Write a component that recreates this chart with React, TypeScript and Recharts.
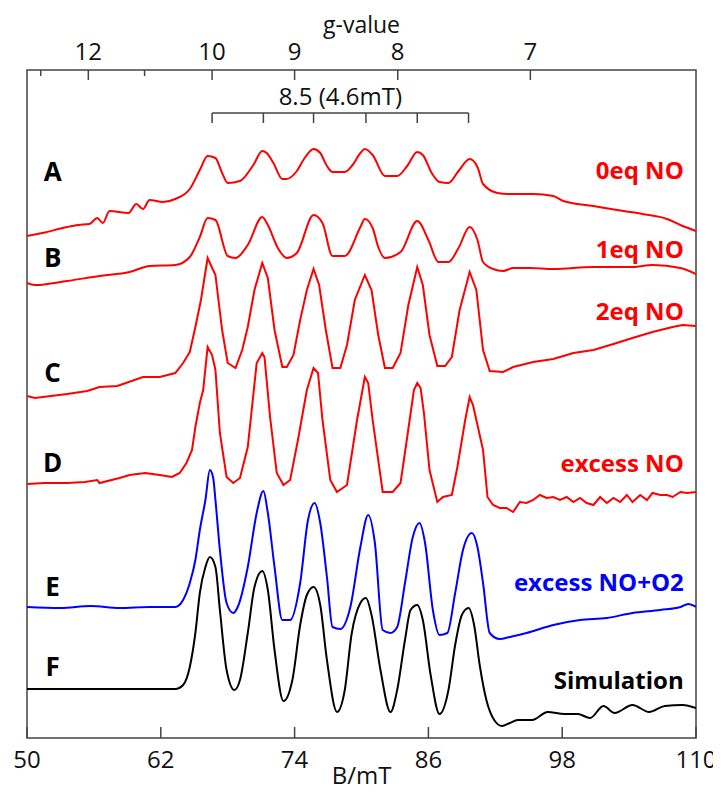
import {
  LineChart,
  Line,
  XAxis,
  YAxis,
  ReferenceArea,
  ReferenceLine,
  ReferenceDot,
} from 'recharts'

// field axis (mT) and the g-value axis on top
const B_TICKS = [50, 62, 74, 86, 98, 110]
const G_LABELLED = [12, 10, 9, 8, 7]
const G_MINOR = [13, 11]
const HNU_OVER_MUB = 666 // g * B (mT) at the spectrometer frequency

// hyperfine comb marked above the spectra
const SPLIT_TICKS = [66.6, 71.2, 75.7, 80.4, 85.0, 89.6]
const SPLIT_LABEL = '8.5 (4.6mT)'

const LETTERS = ['A', 'B', 'C', 'D', 'E', 'F']
const NAMES = ['0eq NO', '1eq NO', '2eq NO', 'excess NO', 'excess NO+O2', 'Simulation']

// [B (mT), signal incl. stacking offset]
const SPEC_A = [
  [50.0, 502], [51.4, 505], [53.6, 511], [54.6, 513], [55.6, 514], [56.3, 520], [56.8, 515],
  [57.4, 527], [59.1, 525], [59.8, 534], [60.4, 529], [61.0, 538], [62.2, 536], [63.3, 539],
  [64.6, 549], [65.5, 568], [66.2, 582], [66.9, 580], [67.5, 565], [68.0, 555], [69.1, 557],
  [70.3, 573], [71.1, 587], [71.5, 585], [72.1, 575], [72.9, 559], [73.3, 559], [74.2, 567],
  [74.9, 580], [75.7, 589], [76.3, 585], [76.9, 572], [77.4, 566], [78.5, 566], [79.2, 573],
  [79.9, 585], [80.3, 589], [81.0, 583], [82.1, 562], [83.2, 562], [84.1, 572], [85.0, 586],
  [85.5, 583], [86.3, 565], [87.0, 556], [87.8, 555], [88.7, 567], [89.7, 579], [90.4, 571],
  [90.9, 554], [92.2, 545], [93.1, 544], [95.4, 544], [97.2, 542], [98.1, 537], [100.8, 532],
  [103.5, 527], [105.2, 524], [107.4, 519], [108.6, 513], [110.0, 507],
]

const SPEC_B = [
  [50.0, 455], [50.7, 453], [53.6, 457], [56.5, 462], [59.2, 466], [61.0, 472], [63.3, 473],
  [64.6, 481], [65.5, 501], [66.2, 520], [66.9, 518], [68.0, 482], [68.7, 480], [69.8, 493],
  [71.1, 521], [71.6, 513], [72.5, 490], [73.3, 480], [74.2, 485], [75.7, 523], [76.5, 515],
  [77.4, 482], [78.5, 482], [79.9, 511], [80.3, 519], [81.0, 510], [81.5, 491], [82.1, 480],
  [83.5, 486], [85.0, 517], [86.0, 498], [86.9, 476], [87.8, 476], [88.7, 490], [89.7, 511],
  [90.4, 498], [90.9, 476], [91.8, 469], [92.7, 467], [93.6, 470], [95.1, 470], [97.2, 469],
  [100.8, 471], [104.3, 471], [106.1, 473], [108.6, 470], [110.0, 464],
]

const SPEC_C = [
  [50.0, 342], [50.7, 340], [53.6, 344], [55.4, 347], [56.5, 351], [58.1, 352], [60.4, 361],
  [61.9, 361], [63.3, 365], [64.0, 375], [64.6, 386], [65.1, 411], [65.6, 438], [66.2, 480],
  [66.9, 463], [67.5, 408], [68.0, 375], [68.7, 370], [69.3, 388], [69.8, 411], [70.4, 448],
  [71.1, 475], [71.6, 460], [72.2, 408], [72.9, 371], [73.3, 371], [73.9, 383], [74.5, 418],
  [75.1, 448], [75.7, 469], [76.2, 453], [76.8, 408], [77.4, 370], [78.1, 370], [78.7, 393],
  [79.4, 438], [80.3, 463], [80.9, 448], [81.5, 403], [82.1, 370], [82.8, 370], [83.5, 385],
  [84.2, 433], [85.0, 471], [85.5, 453], [86.1, 403], [86.8, 372], [87.5, 372], [88.1, 381],
  [88.8, 428], [89.7, 466], [90.3, 448], [90.9, 388], [91.5, 367], [92.7, 366], [93.6, 371],
  [95.4, 376], [97.2, 379], [99.0, 385], [100.8, 388], [102.6, 394], [104.3, 400], [106.1, 406],
  [107.9, 411], [108.8, 413], [110.0, 412],
]

const SPEC_D = [
  [50.0, 254], [51.6, 255], [53.6, 255], [55.2, 256], [56.3, 258], [56.5, 255], [58.3, 260],
  [59.2, 263], [60.6, 265], [61.9, 263], [63.0, 261], [63.7, 265], [64.3, 275], [64.8, 288],
  [65.1, 311], [65.5, 335], [65.8, 348], [66.2, 391], [66.6, 383], [66.9, 368], [67.3, 305],
  [67.9, 261], [68.5, 255], [69.1, 260], [69.8, 291], [70.6, 375], [71.1, 385], [71.3, 381],
  [71.8, 321], [72.4, 265], [73.0, 253], [73.6, 258], [74.3, 298], [75.1, 348], [75.7, 370],
  [76.1, 365], [76.5, 318], [77.2, 258], [77.8, 246], [78.7, 253], [79.6, 318], [80.3, 361],
  [80.6, 355], [81.0, 318], [81.9, 246], [82.8, 246], [83.5, 255], [84.1, 301], [84.7, 348],
  [85.0, 355], [85.3, 350], [85.6, 325], [86.1, 268], [86.8, 236], [87.3, 241], [88.1, 243],
  [88.6, 271], [89.3, 318], [89.7, 341], [90.0, 333], [90.9, 288], [91.3, 241], [91.8, 233],
  [92.4, 230], [93.0, 230], [93.6, 226], [94.2, 236], [94.8, 235], [95.4, 238], [96.0, 243],
  [96.6, 240], [97.2, 241], [97.8, 238], [98.4, 241], [99.0, 236], [99.6, 240], [100.2, 235],
  [100.8, 233], [101.4, 241], [102.0, 235], [102.6, 240], [103.2, 236], [103.8, 243],
  [104.3, 236], [105.0, 243], [105.6, 238], [106.1, 245], [106.8, 243], [107.4, 243],
  [107.9, 241], [108.6, 246], [109.2, 245], [110.0, 246],
]

const SPEC_E = [
  [50.0, 131], [53.0, 130], [55.7, 132], [58.3, 130], [61.0, 131], [63.3, 131], [64.0, 138],
  [64.6, 155], [65.1, 178], [65.5, 208], [66.0, 238], [66.4, 268], [66.7, 260], [66.9, 238],
  [67.3, 188], [67.9, 135], [68.5, 125], [68.9, 131], [69.8, 171], [70.6, 225], [71.2, 247],
  [71.6, 225], [72.2, 171], [72.9, 118], [73.6, 118], [74.5, 155], [75.2, 218], [75.8, 235],
  [76.3, 215], [76.9, 161], [77.4, 111], [78.1, 109], [79.0, 131], [79.9, 191], [80.6, 223],
  [81.2, 195], [81.9, 108], [82.6, 105], [83.2, 111], [83.9, 155], [84.6, 201], [85.2, 215],
  [85.7, 195], [86.4, 128], [87.0, 103], [87.7, 105], [88.4, 145], [89.1, 188], [89.9, 205],
  [90.4, 191], [90.9, 155], [91.5, 105], [92.4, 99], [93.3, 101], [94.8, 105], [97.2, 113],
  [99.6, 118], [102.0, 120], [104.3, 125], [106.8, 128], [108.6, 131], [109.3, 134], [110.0, 131],
]

const SPEC_F = [
  [50.0, 49], [63.3, 49], [64.0, 53], [64.6, 71], [65.1, 105], [65.5, 145], [66.0, 171],
  [66.4, 181], [66.9, 171], [67.3, 128], [67.9, 68], [68.6, 48], [69.1, 58], [69.8, 105],
  [70.4, 151], [71.1, 167], [71.6, 148], [72.2, 88], [73.0, 37], [73.8, 58], [74.5, 113],
  [75.1, 143], [75.7, 151], [76.3, 133], [76.9, 78], [77.8, 26], [78.5, 48], [79.1, 103],
  [79.9, 135], [80.4, 140], [80.9, 123], [81.7, 68], [82.6, 26], [83.2, 48], [83.9, 98],
  [84.4, 128], [85.0, 133], [85.5, 118], [86.2, 63], [87.0, 24], [87.8, 48], [88.4, 93],
  [89.0, 123], [89.6, 130], [90.1, 113], [90.6, 73], [91.2, 38], [91.9, 18], [92.6, 12],
  [93.3, 15], [94.0, 18], [95.3, 18], [96.7, 26], [98.2, 24], [99.4, 24], [100.5, 20],
  [101.7, 32], [102.7, 25], [104.3, 33], [105.8, 26], [107.2, 32], [108.8, 33], [110.0, 30],
]

const SPECTRA = [SPEC_A, SPEC_B, SPEC_C, SPEC_D, SPEC_E, SPEC_F]

// look
const FONT = '"Open Sans", "Noto Sans", sans-serif'
const AXIS = '#444'
const COLORS = ['#ff0000', '#ff0000', '#ff0000', '#ff0000', '#0000ff', '#000000']
const CURVES = ['monotone', 'monotone', 'linear', 'linear', 'monotone', 'monotone']
const LETTER_Y = [566, 480, 365, 275, 151, 71]
const NAME_Y = [568, 489, 427, 275, 156, 58]
const LETTER_B = 52.3
const NAME_B = 108.9
const Y_MAX = 668
const TICK_FS = 24

const toPoints = (s: number[][]) => s.map(([b, v]) => ({ b, v }))

const BottomTick = ({ x, y, payload }: any) => (
  <g>
    <line x1={x} y1={y} x2={x} y2={y - 11} stroke={AXIS} strokeWidth={1.5} />
    <text x={x} y={y + 30} textAnchor="middle" fontSize={TICK_FS} fontFamily={FONT} fill="#111">
      {payload.value}
    </text>
  </g>
)

const textShape = (label: string, anchor: string, size: number, color: string, bold: boolean) =>
  (p: any) => (
    <text
      x={p.cx}
      y={p.cy + size * 0.36}
      textAnchor={anchor}
      fontSize={size}
      fontWeight={bold ? 700 : 400}
      fontFamily={FONT}
      fill={color}
    >
      {label}
    </text>
  )

export default function App() {
  const splitMid = (SPLIT_TICKS[0] + SPLIT_TICKS[SPLIT_TICKS.length - 1]) / 2
  const gAll = [...G_MINOR, ...G_LABELLED]
  return (
    <div style={{ width: 713, height: 783 }}>
      <LineChart width={713} height={783} margin={{ top: 62, right: 25, bottom: 0, left: 19 }}>
        <XAxis
          xAxisId="bottom"
          dataKey="b"
          type="number"
          domain={[50, 110]}
          allowDataOverflow
          ticks={B_TICKS}
          height={53}
          tickSize={0}
          tickMargin={0}
          axisLine={false}
          tickLine={false}
          tick={<BottomTick />}
          interval={0}
        />
        <YAxis hide type="number" domain={[0, Y_MAX]} allowDataOverflow />

        <ReferenceArea
          xAxisId="bottom"
          x1={50}
          x2={110}
          y1={0}
          y2={Y_MAX}
          fill="none"
          stroke={AXIS}
          strokeWidth={1.5}
        />

        {/* g-value scale along the top edge */}
        {gAll.map((g) => (
          <ReferenceLine
            key={'g' + g}
            xAxisId="bottom"
            segment={[
              { x: HNU_OVER_MUB / g, y: Y_MAX },
              { x: HNU_OVER_MUB / g, y: Y_MAX - (G_LABELLED.includes(g) ? 10 : 6) },
            ]}
            stroke={AXIS}
            strokeWidth={1.5}
          />
        ))}
        {G_LABELLED.map((g) => (
          <ReferenceDot
            key={'gl' + g}
            xAxisId="bottom"
            x={HNU_OVER_MUB / g}
            y={Y_MAX + 19}
            r={0}
            ifOverflow="visible"
            shape={textShape(String(g), 'middle', TICK_FS, '#111', false)}
          />
        ))}
        <ReferenceDot
          xAxisId="bottom"
          x={80}
          y={Y_MAX + 45}
          r={0}
          ifOverflow="visible"
          shape={textShape('g-value', 'middle', 23, '#111', false)}
        />
        <ReferenceDot
          xAxisId="bottom"
          x={80}
          y={-37}
          r={0}
          ifOverflow="visible"
          shape={textShape('B/mT', 'middle', TICK_FS, '#111', false)}
        />

        {SPECTRA.map((s, i) => (
          <Line
            key={LETTERS[i]}
            xAxisId="bottom"
            data={toPoints(s)}
            dataKey="v"
            type={CURVES[i] as any}
            stroke={COLORS[i]}
            strokeWidth={2}
            dot={false}
            isAnimationActive={false}
          />
        ))}

        <ReferenceLine
          xAxisId="bottom"
          segment={[
            { x: SPLIT_TICKS[0], y: 625 },
            { x: SPLIT_TICKS[SPLIT_TICKS.length - 1], y: 625 },
          ]}
          stroke={AXIS}
          strokeWidth={1.5}
        />
        {SPLIT_TICKS.map((b) => (
          <ReferenceLine
            key={b}
            xAxisId="bottom"
            segment={[
              { x: b, y: 625 },
              { x: b, y: 615 },
            ]}
            stroke={AXIS}
            strokeWidth={1.5}
          />
        ))}
        <ReferenceDot
          xAxisId="bottom"
          x={splitMid}
          y={642}
          r={0}
          shape={textShape(SPLIT_LABEL, 'middle', 24, '#111', false)}
        />

        {LETTERS.map((l, i) => (
          <ReferenceDot
            key={'l' + l}
            xAxisId="bottom"
            x={LETTER_B}
            y={LETTER_Y[i]}
            r={0}
            shape={textShape(l, 'middle', 26, '#000', true)}
          />
        ))}
        {NAMES.map((n, i) => (
          <ReferenceDot
            key={'n' + n}
            xAxisId="bottom"
            x={NAME_B}
            y={NAME_Y[i]}
            r={0}
            shape={textShape(n, 'end', 24, COLORS[i], true)}
          />
        ))}
      </LineChart>
    </div>
  )
}
